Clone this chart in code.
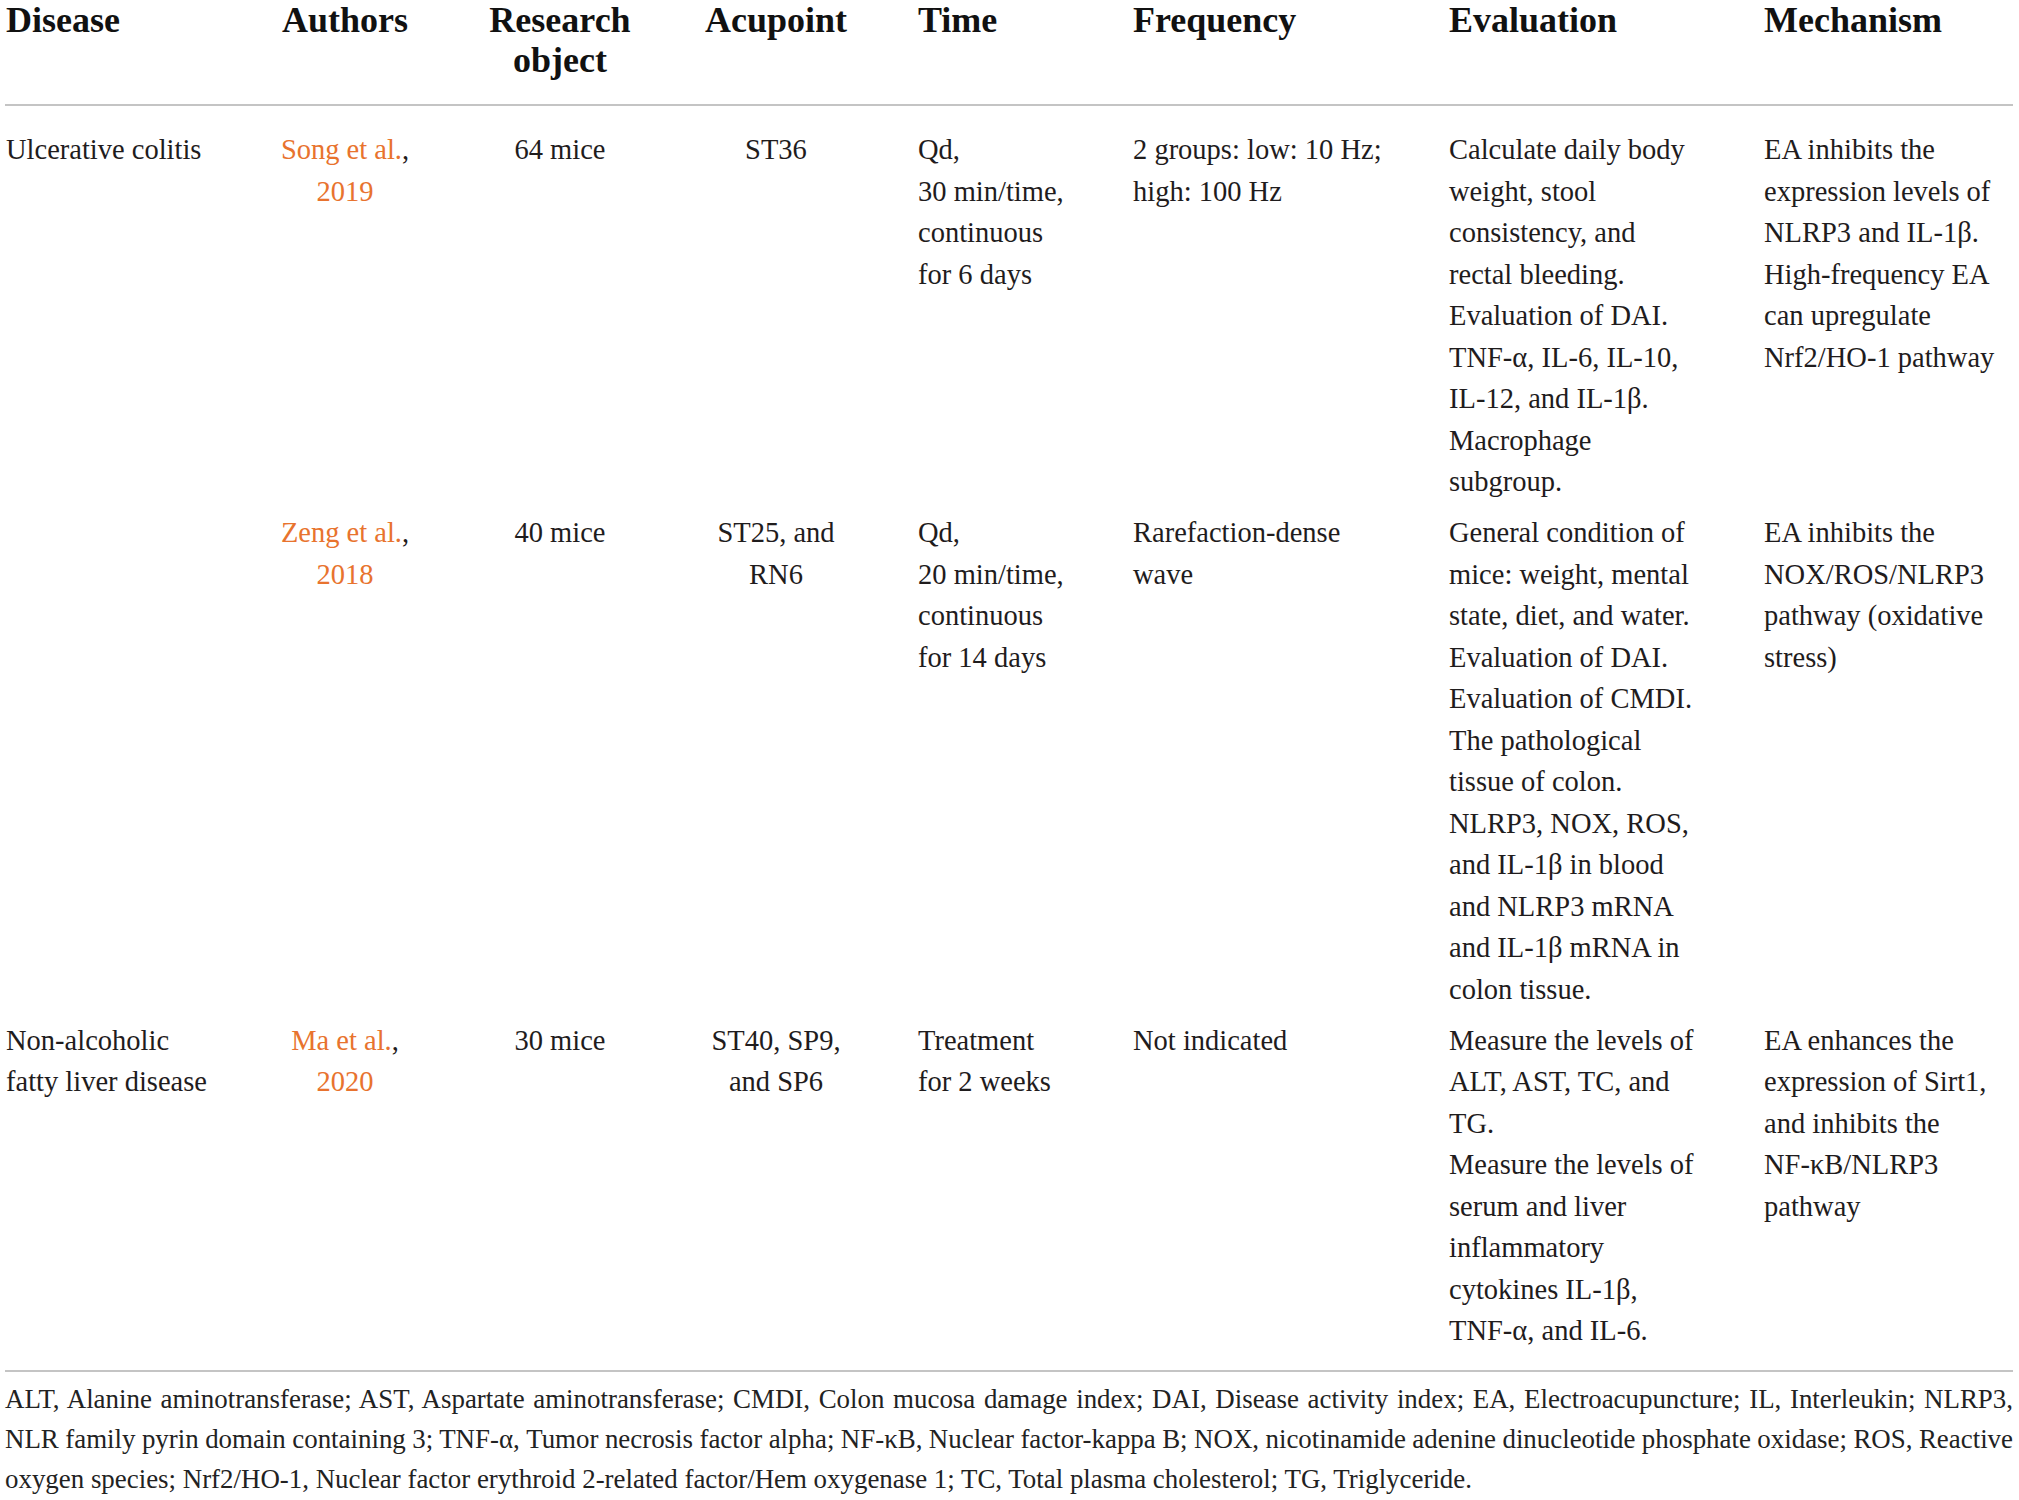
<!DOCTYPE html>
<html lang="en">
  <head>
    <meta charset="UTF-8" />
    <title>Electroacupuncture studies table</title>
    <script src="https://cdn.jsdelivr.net/npm/chart.js"></script>
    <style>
      :root {
        --text-color: #1f1c1d;
        --link-color: #e8732e;
        --rule-color: #c4c4c4;
      }
      body {
        margin: 0;
        background: #ffffff;
        width: 2019px;
        height: 1500px;
        overflow: hidden;
        position: relative;
        font-family: "Liberation Serif", "Times New Roman", serif;
        color: var(--text-color);
      }
      #studyTable {
        position: absolute;
        left: 5px;
        top: 0;
        width: 2008px;
        border-collapse: collapse;
        table-layout: fixed;
      }
      #studyTable th {
        font-size: 36px;
        line-height: 40px;
        font-weight: bold;
        color: #111;
        padding: 0 0 24px 0;
        vertical-align: top;
        white-space: nowrap;
        border-bottom: 2px solid var(--rule-color);
      }
      #studyTable td {
        font-size: 28.5px;
        line-height: 41.5px;
        padding: 4.8px 0;
        vertical-align: top;
        white-space: nowrap;
      }
      #studyTable tbody tr:first-child td {
        padding-top: 23px;
      }
      #studyTable tbody tr:last-child td {
        padding-bottom: 18px;
        border-bottom: 2px solid var(--rule-color);
      }
      .author {
        color: var(--link-color);
      }
      #footnote {
        position: absolute;
        left: 5px;
        top: 1379px;
        width: 2008px;
        font-size: 26.9px;
        line-height: 40px;
        color: #222;
      }
      #footnote div {
        white-space: nowrap;
      }
      #footnote div.full {
        text-align: justify;
        text-align-last: justify;
      }
    </style>
  </head>
  <body>
    <table id="studyTable">
      <colgroup id="cols"></colgroup>
      <thead><tr id="headRow"></tr></thead>
      <tbody id="bodyRows"></tbody>
    </table>
    <div id="footnote"></div>

    <script>
      // Table content, line breaks as in the picture
      const headers = [["Disease"], ["Authors"], ["Research", "object"], ["Acupoint"], ["Time"], ["Frequency"], ["Evaluation"], ["Mechanism"]];

      const diseases = [["Ulcerative colitis"], [], ["Non-alcoholic", "fatty liver disease"]];
      const authors = ["Song et al.", "Zeng et al.", "Ma et al."];
      const years = ["2019", "2018", "2020"];
      const subjects = ["64 mice", "40 mice", "30 mice"];
      const acupoints = [["ST36"], ["ST25, and", "RN6"], ["ST40, SP9,", "and SP6"]];
      const timeLines = [
        ["Qd,", "30 min/time,", "continuous", "for 6 days"],
        ["Qd,", "20 min/time,", "continuous", "for 14 days"],
        ["Treatment", "for 2 weeks"]
      ];
      const frequencyLines = [
        ["2 groups: low: 10 Hz;", "high: 100 Hz"],
        ["Rarefaction-dense", "wave"],
        ["Not indicated"]
      ];
      const evaluationLines = [
        ["Calculate daily body", "weight, stool", "consistency, and", "rectal bleeding.", "Evaluation of DAI.",
         "TNF-\u03b1, IL-6, IL-10,", "IL-12, and IL-1\u03b2.", "Macrophage", "subgroup."],
        ["General condition of", "mice: weight, mental", "state, diet, and water.", "Evaluation of DAI.",
         "Evaluation of CMDI.", "The pathological", "tissue of colon.", "NLRP3, NOX, ROS,",
         "and IL-1\u03b2 in blood", "and NLRP3 mRNA", "and IL-1\u03b2 mRNA in", "colon tissue."],
        ["Measure the levels of", "ALT, AST, TC, and", "TG.", "Measure the levels of", "serum and liver",
         "inflammatory", "cytokines IL-1\u03b2,", "TNF-\u03b1, and IL-6."]
      ];
      const mechanismLines = [
        ["EA inhibits the", "expression levels of", "NLRP3 and IL-1\u03b2.", "High-frequency EA", "can upregulate", "Nrf2/HO-1 pathway"],
        ["EA inhibits the", "NOX/ROS/NLRP3", "pathway (oxidative", "stress)"],
        ["EA enhances the", "expression of Sirt1,", "and inhibits the", "NF-\u03baB/NLRP3", "pathway"]
      ];
      const footnoteLines = [
        "ALT, Alanine aminotransferase; AST, Aspartate aminotransferase; CMDI, Colon mucosa damage index; DAI, Disease activity index; EA, Electroacupuncture; IL, Interleukin; NLRP3,",
        "NLR family pyrin domain containing 3; TNF-\u03b1, Tumor necrosis factor alpha; NF-\u03baB, Nuclear factor-kappa B; NOX, nicotinamide adenine dinucleotide phosphate oxidase; ROS, Reactive",
        "oxygen species; Nrf2/HO-1, Nuclear factor erythroid 2-related factor/Hem oxygenase 1; TC, Total plasma cholesterol; TG, Triglyceride."
      ];

      // Column layout: width, alignment, left padding
      const colWidths = [260, 160, 270, 162, 270, 316, 315, 255];
      const colAlign = ["left", "center", "center", "center", "left", "left", "left", "left"];
      const colPad = [1, 0, 0, 0, 61, 6, 6, 6];

      function escapeHtml(s) {
        return s.replace(/&/g, "&amp;").replace(/</g, "&lt;").replace(/>/g, "&gt;");
      }
      function linesHtml(lines) {
        return lines.map(escapeHtml).join("<br>");
      }
      function styleCell(cell, i) {
        cell.style.textAlign = colAlign[i];
        cell.style.paddingLeft = colPad[i] + "px";
      }

      const cols = document.getElementById("cols");
      colWidths.forEach((w) => {
        const col = document.createElement("col");
        col.style.width = w + "px";
        cols.appendChild(col);
      });

      const headRow = document.getElementById("headRow");
      headers.forEach((h, i) => {
        const th = document.createElement("th");
        th.innerHTML = linesHtml(h);
        styleCell(th, i);
        headRow.appendChild(th);
      });

      const bodyRows = document.getElementById("bodyRows");
      authors.forEach((author, r) => {
        const tr = document.createElement("tr");
        const cells = [
          linesHtml(diseases[r]),
          '<span class="author">' + escapeHtml(author) + "</span>,<br>" + '<span class="author">' + years[r] + "</span>",
          escapeHtml(subjects[r]),
          linesHtml(acupoints[r]),
          linesHtml(timeLines[r]),
          linesHtml(frequencyLines[r]),
          linesHtml(evaluationLines[r]),
          linesHtml(mechanismLines[r])
        ];
        cells.forEach((html, i) => {
          const td = document.createElement("td");
          td.innerHTML = html;
          styleCell(td, i);
          tr.appendChild(td);
        });
        bodyRows.appendChild(tr);
      });

      // Footnote: first two lines fill the full width, squeezed a bit if too long
      const footnote = document.getElementById("footnote");
      footnoteLines.forEach((line, i) => {
        const div = document.createElement("div");
        div.textContent = line;
        if (i < footnoteLines.length - 1) div.className = "full";
        footnote.appendChild(div);
        if (div.scrollWidth > footnote.clientWidth) {
          const over = div.scrollWidth - footnote.clientWidth;
          const gaps = line.split(" ").length - 1;
          div.style.wordSpacing = (-over / gaps).toFixed(2) + "px";
        }
      });
    </script>
  </body>
</html>
